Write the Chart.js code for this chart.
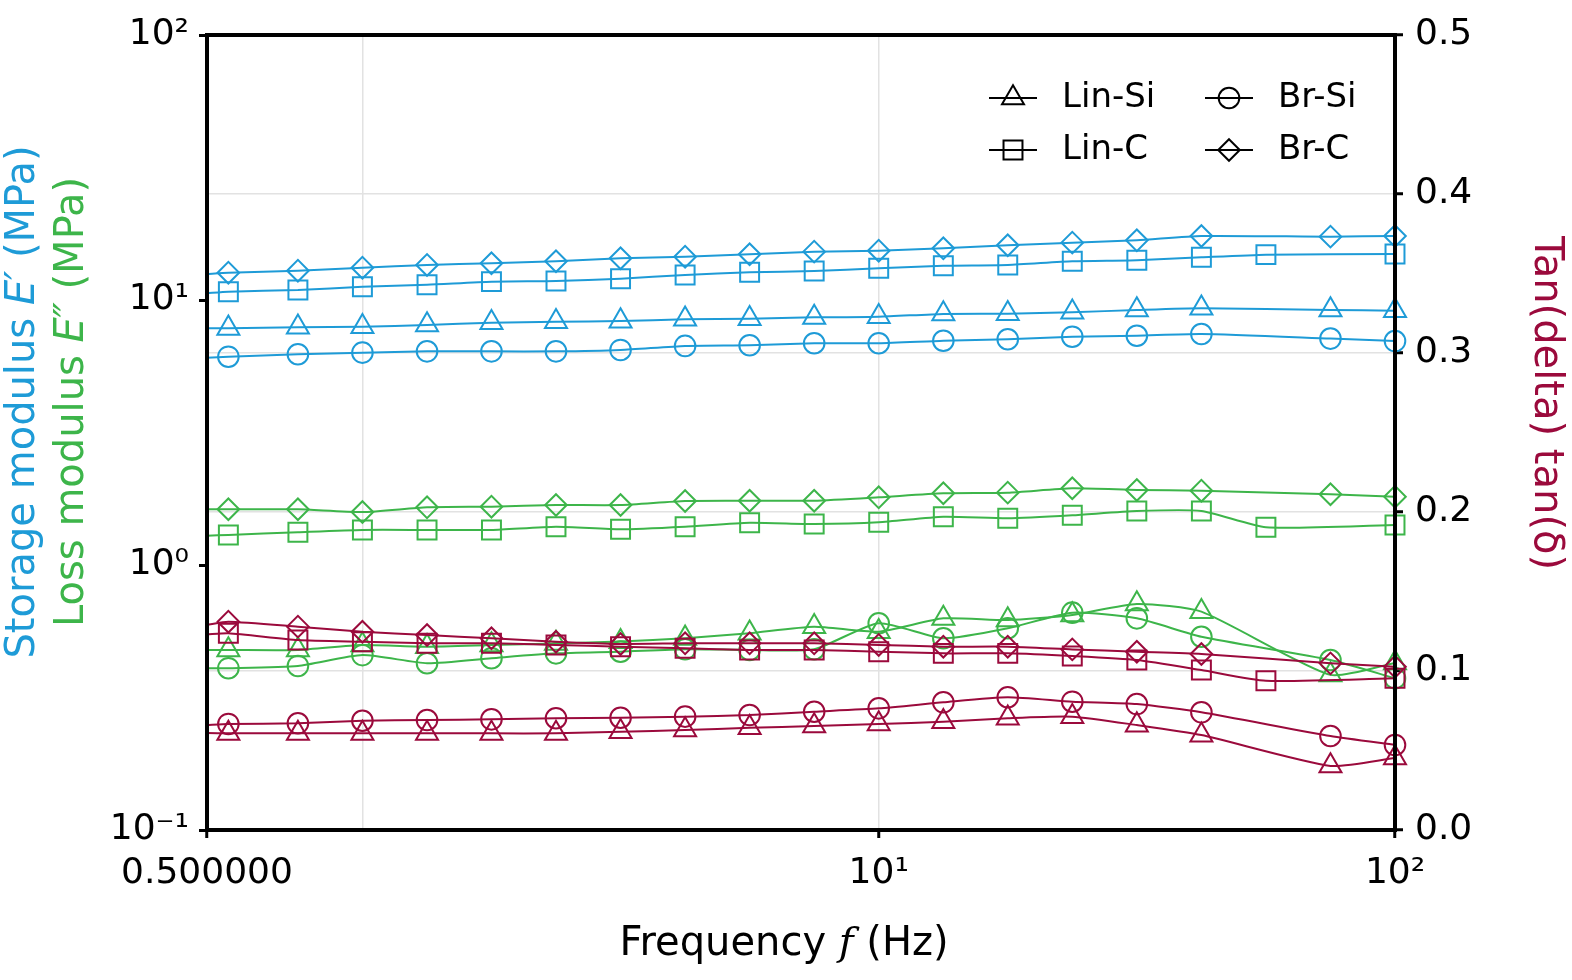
<!DOCTYPE html>
<html>
<head>
<meta charset="utf-8">
<script src="https://cdn.jsdelivr.net/npm/chart.js@4/dist/chart.umd.min.js"></script>
<style>
  html, body { margin: 0; padding: 0; background: #fff; }
  #wrap { width: 1572px; height: 980px; position: relative; }
</style>
</head>
<body>
<div id="wrap"><canvas id="c" width="1572" height="980"></canvas></div>
<script>
// ---------- DATA ----------
// frequency (Hz); the first entry is the start of the drawn curves (no marker there)
const freq = [0.5, 0.55, 0.75, 1.0, 1.334, 1.778, 2.371, 3.162, 4.217, 5.623, 7.499, 10, 13.34, 17.78, 23.71, 31.62, 42.17, 56.23, 74.99, 100];

const sampleNames = ['Lin-Si', 'Lin-C', 'Br-Si', 'Br-C'];

// Storage modulus E' (MPa)
const linSi_E1 = [7.83, 7.82, 7.89, 7.93, 8.05, 8.21, 8.28, 8.33, 8.46, 8.50, 8.60, 8.65, 8.86, 8.88, 8.99, 9.17, 9.31, null, 9.17, 9.11];
const linC_E1  = [10.6, 10.75, 10.91, 11.22, 11.42, 11.73, 11.80, 12.03, 12.43, 12.72, 12.86, 13.17, 13.47, 13.56, 14.0, 14.12, 14.49, 14.83, null, 14.92];
const brSi_E1  = [6.05, 6.11, 6.24, 6.33, 6.40, 6.40, 6.40, 6.48, 6.71, 6.75, 6.87, 6.87, 7.02, 7.11, 7.27, 7.33, 7.44, null, 7.15, 7.00];
const brC_E1   = [12.53, 12.68, 12.90, 13.24, 13.56, 13.76, 14.0, 14.37, 14.57, 14.88, 15.22, 15.35, 15.67, 16.09, 16.46, 16.80, 17.44, null, 17.34, 17.44];

// Loss modulus E'' (MPa)
const linSi_E2 = [0.478, 0.478, 0.478, 0.499, 0.492, 0.499, 0.506, 0.514, 0.529, 0.553, 0.585, 0.560, 0.629, 0.620, 0.648, 0.713, 0.667, null, 0.385, 0.427];
const linC_E2  = [1.29, 1.298, 1.329, 1.356, 1.356, 1.356, 1.395, 1.364, 1.395, 1.444, 1.428, 1.449, 1.521, 1.500, 1.540, 1.599, 1.599, 1.388, null, 1.416];
const brSi_E2  = [0.408, 0.408, 0.416, 0.457, 0.426, 0.445, 0.464, 0.471, 0.481, 0.478, 0.481, 0.603, 0.529, 0.577, 0.661, 0.629, 0.536, null, 0.438, 0.374];
const brC_E2   = [1.623, 1.623, 1.623, 1.585, 1.651, 1.660, 1.684, 1.684, 1.744, 1.748, 1.748, 1.801, 1.865, 1.875, 1.948, 1.919, 1.907, null, 1.849, 1.810];

// tan(delta)
const linSi_tan = [0.061, 0.0608, 0.0608, 0.0608, 0.0608, 0.0608, 0.0608, 0.0618, 0.0629, 0.0643, 0.0654, 0.0667, 0.0681, 0.0703, 0.0713, 0.0660, 0.0597, null, 0.0403, 0.0453];
const linC_tan  = [0.123, 0.1237, 0.1195, 0.1184, 0.1174, 0.1174, 0.1164, 0.1153, 0.1143, 0.1132, 0.1132, 0.1121, 0.1111, 0.1111, 0.1094, 0.1069, 0.1006, 0.0939, null, 0.0954];
const brSi_tan  = [0.066, 0.0667, 0.0671, 0.0687, 0.0692, 0.0696, 0.0703, 0.0706, 0.0713, 0.0723, 0.0744, 0.0765, 0.0803, 0.0835, 0.0807, 0.0792, 0.0740, null, 0.0591, 0.0535];
const brC_tan   = [0.129, 0.1310, 0.1279, 0.1247, 0.1226, 0.1206, 0.1184, 0.1170, 0.1174, 0.1174, 0.1174, 0.1164, 0.1153, 0.1153, 0.1136, 0.1121, 0.1107, null, 0.1048, 0.1027];

// tick values and labels
const xTickValues = [0.5, 1, 10, 100];
const xTickLabels = ['0.500000', '', '10\u00B9', '10\u00B2'];
const yTickValues = [0.1, 1, 10, 100];
const yTickLabels = ['10\u207B\u00B9', '10\u2070', '10\u00B9', '10\u00B2'];
const y2TickValues = [0, 0.1, 0.2, 0.3, 0.4, 0.5];
const y2TickLabels = ['0.0', '0.1', '0.2', '0.3', '0.4', '0.5'];

// ---------- STYLE ----------
const BLUE = '#1e9bd7', GREEN = '#3db54a', RED = '#9b0a3c', GRID = '#e2e2e2';
const FONT = '"DejaVu Sans", sans-serif';
const markerStyle = { 'Lin-Si': 'triangle', 'Lin-C': 'rect', 'Br-Si': 'circle', 'Br-C': 'rectRot' };
const markerRadius = { triangle: 12.7, rect: 13.4, circle: 10.3, rectRot: 10.8 };

function mk(name, values, color, axis) {
  const st = markerStyle[name];
  return {
    label: name,
    data: values.map((v, i) => ({ x: freq[i], y: v })),
    yAxisID: axis,
    borderColor: color,
    backgroundColor: 'rgba(0,0,0,0)',
    borderWidth: 2,
    pointStyle: st,
    pointRadius: ctx => ctx.dataIndex === 0 ? 0 : markerRadius[st],
    pointBorderWidth: 2,
    pointBorderColor: color,
    pointBackgroundColor: 'rgba(0,0,0,0)',
    tension: 0.2,
    spanGaps: true,
    clip: false,
    fill: false
  };
}

const datasets = [
  mk('Lin-Si', linSi_tan, RED, 'y2'), mk('Lin-C', linC_tan, RED, 'y2'),
  mk('Br-Si', brSi_tan, RED, 'y2'), mk('Br-C', brC_tan, RED, 'y2'),
  mk('Lin-Si', linSi_E2, GREEN, 'y'), mk('Lin-C', linC_E2, GREEN, 'y'),
  mk('Br-Si', brSi_E2, GREEN, 'y'), mk('Br-C', brC_E2, GREEN, 'y'),
  mk('Lin-Si', linSi_E1, BLUE, 'y'), mk('Lin-C', linC_E1, BLUE, 'y'),
  mk('Br-Si', brSi_E1, BLUE, 'y'), mk('Br-C', brC_E1, BLUE, 'y')
];

// ---------- helpers ----------
function drawMarker(ctx, style, x, y, r) {
  ctx.beginPath();
  if (style === 'circle') {
    ctx.arc(x, y, r, 0, Math.PI * 2);
  } else if (style === 'triangle') {
    for (let k = 0; k < 3; k++) {
      const a = k * 2 * Math.PI / 3;
      const px = x + Math.sin(a) * r, py = y - Math.cos(a) * r;
      if (k === 0) ctx.moveTo(px, py); else ctx.lineTo(px, py);
    }
    ctx.closePath();
  } else if (style === 'rect') {
    const s = Math.SQRT1_2 * r;
    ctx.rect(x - s, y - s, 2 * s, 2 * s);
  } else if (style === 'rectRot') {
    ctx.moveTo(x, y - r); ctx.lineTo(x + r, y); ctx.lineTo(x, y + r); ctx.lineTo(x - r, y); ctx.closePath();
  }
  ctx.stroke();
}

function drawRich(ctx, parts, cx, cy, angle, color, align) {
  ctx.save();
  ctx.translate(cx, cy);
  ctx.rotate(angle);
  ctx.fillStyle = color;
  ctx.textBaseline = 'alphabetic';
  ctx.textAlign = 'left';
  let total = 0;
  parts.forEach(p => { ctx.font = p.font; p.w = ctx.measureText(p.t).width; total += p.w; });
  let x = align === 'left' ? 0 : -total / 2;
  parts.forEach(p => { ctx.font = p.font; ctx.fillText(p.t, x, 0); x += p.w; });
  ctx.restore();
}

const decorPlugin = {
  id: 'decor',
  afterDatasetsDraw(chart) {
    const { ctx, chartArea: a } = chart;
    ctx.save();
    ctx.strokeStyle = '#000';
    ctx.lineWidth = 4;
    ctx.strokeRect(a.left, a.top, a.right - a.left, a.bottom - a.top);
    ctx.restore();
  },
  afterDraw(chart) {
    const { ctx } = chart;
    const N = '40px ' + FONT, I = 'italic 40px ' + FONT;
    // left titles
    drawRich(ctx, [{ t: 'Storage modulus ', font: N }, { t: 'E\u2032', font: I }, { t: ' (MPa)', font: N }], 34, 402, -Math.PI / 2, BLUE);
    drawRich(ctx, [{ t: 'Loss modulus ', font: N }, { t: 'E\u2033', font: I }, { t: ' (MPa)', font: N }], 83, 402, -Math.PI / 2, GREEN);
    // right title
    drawRich(ctx, [{ t: 'Tan(delta) tan(\u03B4)', font: N }], 1535, 403, Math.PI / 2, RED);
    // x title
    drawRich(ctx, [{ t: 'Frequency ', font: N }, { t: 'f', font: 'italic 40px "DejaVu Serif", serif' }, { t: ' (Hz)', font: N }], 784, 955, 0, '#000');

    // legend
    const LF = '34px ' + FONT;
    const pos = [[1013, 98], [1013, 150], [1229, 98], [1229, 150]];
    sampleNames.forEach((name, i) => {
      const [x, y] = pos[i];
      ctx.save();
      ctx.strokeStyle = '#000';
      ctx.lineWidth = 2;
      ctx.beginPath(); ctx.moveTo(x - 24, y); ctx.lineTo(x + 24, y); ctx.stroke();
      const st = markerStyle[name];
      drawMarker(ctx, st, x, y, markerRadius[st]);
      ctx.fillStyle = '#000';
      ctx.font = LF;
      ctx.textBaseline = 'middle';
      ctx.textAlign = 'left';
      ctx.fillText(name, x + 49, y);
      ctx.restore();
    });
  }
};

function setTicks(values) {
  return scale => { scale.ticks = values.map(v => ({ value: v })); };
}

new Chart(document.getElementById('c'), {
  type: 'line',
  data: { datasets },
  options: {
    responsive: false,
    animation: false,
    events: [],
    layout: { padding: { top: 35, left: 0, right: 0, bottom: 0 } },
    plugins: { legend: { display: false }, tooltip: { enabled: false } },
    scales: {
      x: {
        type: 'logarithmic',
        min: 0.5, max: 100,
        afterBuildTicks: setTicks(xTickValues),
        afterFit: s => { s.height = 150; },
        border: { display: false },
        grid: {
          color: GRID, lineWidth: 1.5,
          tickLength: 8, tickWidth: 3,
          tickColor: ctx => (ctx.tick && ctx.tick.value === 1) ? 'rgba(0,0,0,0)' : '#000'
        },
        ticks: {
          autoSkip: false, maxRotation: 0, minRotation: 0, padding: 14,
          color: '#000', font: { family: FONT, size: 36 },
          callback: (v, i) => xTickLabels[i]
        }
      },
      y: {
        type: 'logarithmic', position: 'left',
        min: 0.1, max: 100,
        afterBuildTicks: setTicks(yTickValues),
        afterFit: s => { s.width = 207; },
        border: { display: false },
        grid: { drawOnChartArea: false, tickLength: 8, tickWidth: 3, tickColor: '#000', color: '#000' },
        ticks: {
          autoSkip: false, padding: 10, color: '#000', font: { family: FONT, size: 36 },
          callback: (v, i) => yTickLabels[i]
        }
      },
      y2: {
        type: 'linear', position: 'right',
        min: 0, max: 0.5,
        afterBuildTicks: setTicks(y2TickValues),
        afterFit: s => { s.width = 177; },
        border: { display: false },
        grid: { drawOnChartArea: true, color: GRID, lineWidth: 1.5, tickLength: 8, tickWidth: 3, tickColor: '#000' },
        ticks: {
          autoSkip: false, padding: 12, color: '#000', font: { family: FONT, size: 36 },
          callback: (v, i) => y2TickLabels[i]
        }
      }
    }
  },
  plugins: [decorPlugin]
});
</script>
</body>
</html>
